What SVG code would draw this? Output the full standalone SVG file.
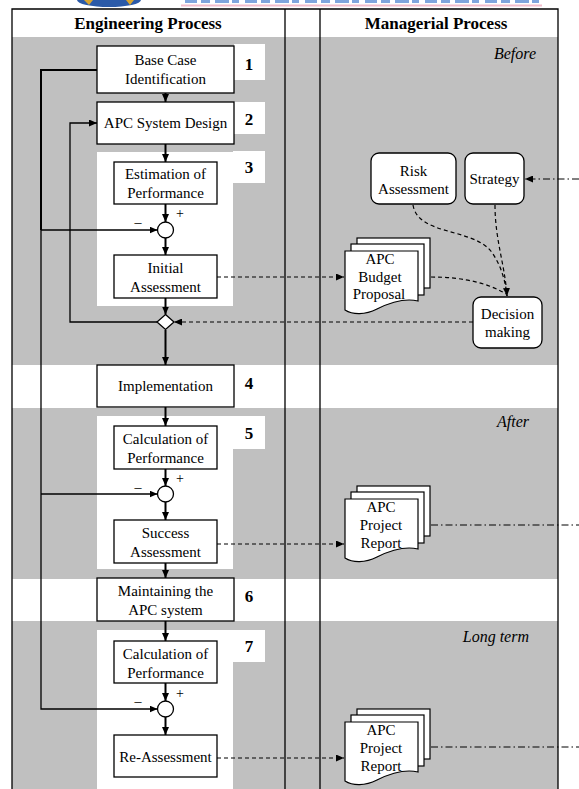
<svg xmlns="http://www.w3.org/2000/svg" width="579" height="789" viewBox="0 0 579 789">
<style>
text{font-family:"Liberation Serif","Times New Roman",serif;fill:#000}
.t{font-size:15px;text-anchor:middle}
.hd{font-size:17px;font-weight:bold;text-anchor:middle}
.num{font-size:17px;font-weight:bold;text-anchor:middle}
.it{font-size:16px;font-style:italic;text-anchor:end}
.sg{font-size:14px;text-anchor:middle}
.box{fill:#fff;stroke:#000;stroke-width:1.3}
.band{fill:#c0c0c0}
.wh{fill:#fff}
.flow{fill:none;stroke:#000;stroke-width:2}
.fb{fill:none;stroke:#000;stroke-width:1.3}
.dash{fill:none;stroke:#000;stroke-width:1.2;stroke-dasharray:4,3}
.dd{fill:none;stroke:#000;stroke-width:1;stroke-dasharray:7,3,1.5,3}
.doc{fill:#fff;stroke:#000;stroke-width:1.2}
</style>
<defs>
<marker id="ah" markerWidth="8" markerHeight="7" refX="8" refY="3.5" orient="auto" markerUnits="userSpaceOnUse">
<path d="M0,0 L8,3.5 L0,7 Z" fill="#000"/>
</marker>
<g id="docs">
<rect class="doc" x="12" y="-13" width="73" height="50"/>
<rect class="doc" x="6" y="-7" width="73" height="51"/>
<path class="doc" d="M0,0 H73 V50 C60,47 46,51 32,58 C20,64 8,64 0,59 Z"/>
</g>
</defs>
<rect width="579" height="789" fill="#fff"/>
<g id="logo">
<path d="M77,0 A32,7 0 0 0 141,0 Z" fill="#2b5aa8"/>
<path d="M84,0 L89,5 L93,0 Z" fill="#d8a530"/>
<path d="M126,0 L130,5 L134,0 Z" fill="#d8a530"/>
<line x1="185" y1="1.5" x2="542" y2="1.5" stroke="#4a7fd0" stroke-width="3" stroke-dasharray="12,4,9,5,14,3,7,6" opacity="0.7"/>
<rect x="181" y="4.5" width="361" height="2" fill="#f2bccb"/>
</g>
<g id="bands">
<rect class="band" x="12" y="37" width="546" height="328"/>
<rect class="band" x="12" y="408" width="546" height="171"/>
<rect class="band" x="12" y="621" width="546" height="168"/>
<rect class="wh" x="97" y="152" width="136" height="154"/>
<rect class="wh" x="233" y="151" width="32" height="32"/>
<rect class="wh" x="97" y="416" width="136" height="153"/>
<rect class="wh" x="233" y="416" width="32" height="33"/>
<rect class="wh" x="97" y="630" width="136" height="159"/>
<rect class="wh" x="233" y="630" width="32" height="32"/>
<rect class="wh" x="234" y="44" width="31" height="36"/>
<rect class="wh" x="234" y="102" width="31" height="32"/>
<rect class="wh" x="234" y="579" width="31" height="33"/>
</g>
<g id="table" fill="none" stroke="#000" stroke-width="1.3">
<path d="M12,789 V9 H558 V789"/>
<path d="M285,9 V789 M320,9 V789"/>
</g>
<text class="hd" x="148" y="29">Engineering Process</text>
<text class="hd" x="436" y="29">Managerial Process</text>
<text class="it" x="536" y="59">Before</text>
<text class="it" x="529" y="427">After</text>
<text class="it" x="529" y="642">Long term</text>
<g id="connectors">
<path class="flow" d="M165.5,93 V102" marker-end="url(#ah)"/>
<path class="flow" d="M165.5,144 V162" marker-end="url(#ah)"/>
<path class="flow" d="M165.5,204 V222" marker-end="url(#ah)"/>
<path class="flow" d="M165.5,238 V255" marker-end="url(#ah)"/>
<path class="flow" d="M165.5,298 V314.5" marker-end="url(#ah)"/>
<path class="flow" d="M165.5,330 V365" marker-end="url(#ah)"/>
<path class="flow" d="M165.5,407 V426" marker-end="url(#ah)"/>
<path class="flow" d="M165.5,469 V486" marker-end="url(#ah)"/>
<path class="flow" d="M165.5,502 V520" marker-end="url(#ah)"/>
<path class="flow" d="M165.5,563 V578" marker-end="url(#ah)"/>
<path class="flow" d="M165.5,621 V641" marker-end="url(#ah)"/>
<path class="flow" d="M165.5,683 V701" marker-end="url(#ah)"/>
<path class="flow" d="M165.5,717 V735" marker-end="url(#ah)"/>
<path class="flow" d="M97,70 H41 V230"/>
<path class="fb" d="M41,229 V709 H157.5" marker-end="url(#ah)"/>
<path class="fb" d="M41,230 H157.5" marker-end="url(#ah)"/>
<path class="fb" d="M41,494 H157.5" marker-end="url(#ah)"/>
<path class="fb" d="M157,322 H70 V123 H97" marker-end="url(#ah)"/>
<path class="dash" d="M473,322 H174" marker-end="url(#ah)"/>
<path class="dash" d="M217,277 H344" marker-end="url(#ah)"/>
<path class="dash" d="M217,544 H344" marker-end="url(#ah)"/>
<path class="dash" d="M217,758 H344" marker-end="url(#ah)"/>
<path class="dash" d="M413,205 C418,235 470,228 490,250 C502,265 506,285 507,296"/>
<path class="dash" d="M431,277 C465,277 490,284 506,294"/>
<path class="dash" d="M495,205 C495,240 505,265 507,296" marker-end="url(#ah)"/>
<path class="dd" d="M579,179 H525" marker-end="url(#ah)"/>
<path class="dd" d="M431,525 H579"/>
<path class="dd" d="M431,747 H579"/>
</g>
<g id="n1"><rect class="box" x="97" y="46" width="137" height="47"/><text class="t" x="165.5" y="65">Base Case</text><text class="t" x="165.5" y="84">Identification</text><text class="num" x="249" y="70">1</text></g>
<g id="n2"><rect class="box" x="97" y="102" width="137" height="42"/><text class="t" x="165.5" y="128">APC System Design</text><text class="num" x="249" y="125">2</text></g>
<g id="n3a"><rect class="box" x="114" y="162" width="103" height="42"/><text class="t" x="165.5" y="179">Estimation of</text><text class="t" x="165.5" y="198">Performance</text><text class="num" x="249" y="173">3</text></g>
<g id="s3"><circle cx="165.5" cy="230" r="8" class="box"/><text class="sg" x="180" y="218">+</text><text class="sg" x="138" y="227">–</text></g>
<g id="n3b"><rect class="box" x="114" y="255" width="103" height="43"/><text class="t" x="165.5" y="273">Initial</text><text class="t" x="165.5" y="292">Assessment</text></g>
<g id="dec"><path class="box" d="M165.5,314.5 L174,322 L165.5,329.5 L157,322 Z"/></g>
<g id="n4"><rect class="box" x="97" y="365" width="137" height="42"/><text class="t" x="165.5" y="391">Implementation</text><text class="num" x="249" y="389">4</text></g>
<g id="n5a"><rect class="box" x="114" y="426" width="103" height="43"/><text class="t" x="165.5" y="444">Calculation of</text><text class="t" x="165.5" y="463">Performance</text><text class="num" x="249" y="439">5</text></g>
<g id="s5"><circle cx="165.5" cy="494" r="8" class="box"/><text class="sg" x="180" y="483">+</text><text class="sg" x="138" y="492">–</text></g>
<g id="n5b"><rect class="box" x="114" y="520" width="103" height="43"/><text class="t" x="165.5" y="538">Success</text><text class="t" x="165.5" y="557">Assessment</text></g>
<g id="n6"><rect class="box" x="97" y="578" width="137" height="43"/><text class="t" x="165.5" y="596">Maintaining the</text><text class="t" x="165.5" y="615">APC system</text><text class="num" x="249" y="602">6</text></g>
<g id="n7a"><rect class="box" x="114" y="641" width="103" height="42"/><text class="t" x="165.5" y="659">Calculation of</text><text class="t" x="165.5" y="678">Performance</text><text class="num" x="249" y="652">7</text></g>
<g id="s7"><circle cx="165.5" cy="709" r="8" class="box"/><text class="sg" x="180" y="698">+</text><text class="sg" x="138" y="706">–</text></g>
<g id="n7b"><rect class="box" x="114" y="735" width="103" height="42"/><text class="t" x="165.5" y="762">Re-Assessment</text></g>
<g id="risk"><rect class="box" x="371" y="153" width="85" height="51" rx="8"/><text class="t" x="413.5" y="176">Risk</text><text class="t" x="413.5" y="194">Assessment</text></g>
<g id="strategy"><rect class="box" x="465" y="153" width="59" height="51" rx="8"/><text class="t" x="494.5" y="184">Strategy</text></g>
<g id="decision"><rect class="box" x="473" y="297" width="69" height="51" rx="8"/><text class="t" x="507.5" y="319">Decision</text><text class="t" x="507.5" y="337">making</text></g>
<g id="budget"><use href="#docs" x="345" y="251"/><text class="t" x="380" y="264">APC</text><text class="t" x="380" y="282">Budget</text><text class="t" x="379" y="299">Proposal</text></g>
<g id="report1"><use href="#docs" x="345" y="499"/><text class="t" x="381" y="512">APC</text><text class="t" x="381" y="530">Project</text><text class="t" x="381" y="548">Report</text></g>
<g id="report2"><use href="#docs" x="345" y="722"/><text class="t" x="381" y="735">APC</text><text class="t" x="381" y="753">Project</text><text class="t" x="381" y="771">Report</text></g>
</svg>
